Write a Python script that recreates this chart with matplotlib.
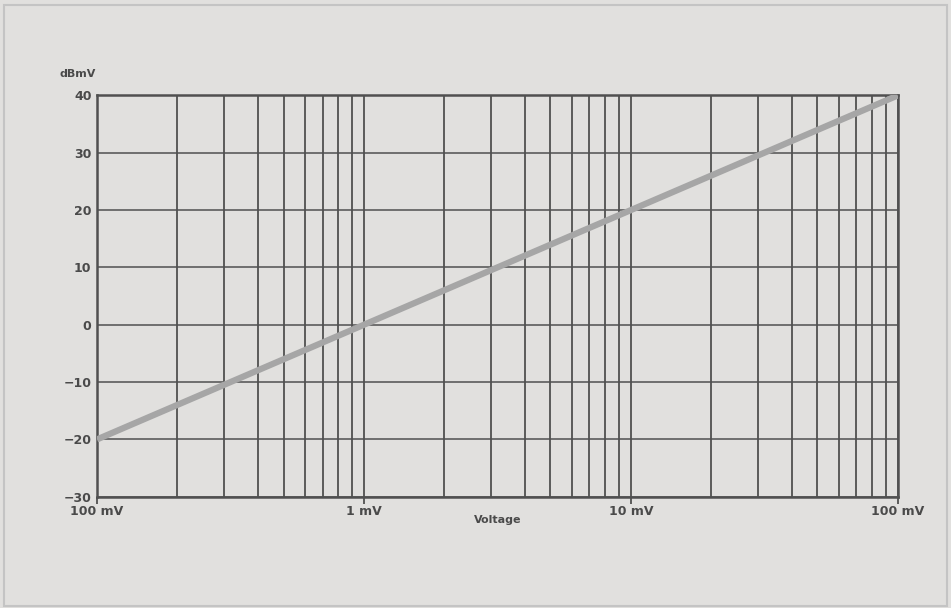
import numpy as np
import matplotlib; matplotlib.use("Agg")
import matplotlib.pyplot as plt
from matplotlib.ticker import FixedLocator, NullFormatter

# data (voltage in mV, level in dBmV)
volt_mv = [0.1, 100.0]
level_dbmv = [-20.0, 40.0]
x_ticks = [0.1, 1.0, 10.0, 100.0]
x_labels = ["100 mV", "1 mV", "10 mV", "100 mV"]
y_ticks = [-30, -20, -10, 0, 10, 20, 30, 40]

BG = "#e1e0de"; GRID = "#505050"; TXT = "#4a4a4a"

fig = plt.figure(figsize=(9.51, 6.08), dpi=100, facecolor=BG)
fig.patches.append(plt.Rectangle((0.004, 0.004), 0.992, 0.988, transform=fig.transFigure,
                                 fill=False, ec="#c4c4c4", lw=1.5))
ax = fig.add_axes([0.102, 0.183, 0.842, 0.660])
ax.set_facecolor(BG)
ax.set_xscale("log")
ax.set_xlim(0.1, 100); ax.set_ylim(-30, 40)

minor = [m * d for d in (0.1, 1, 10) for m in range(2, 10)]
ax.xaxis.set_major_locator(FixedLocator(x_ticks))
ax.xaxis.set_minor_locator(FixedLocator(minor))
ax.xaxis.set_minor_formatter(NullFormatter())
ax.set_xticks(x_ticks); ax.set_xticklabels(x_labels)
ax.set_yticks(y_ticks)
ax.set_yticklabels([str(v).replace("-", "\u2212") for v in y_ticks])

ax.grid(True, which="both", axis="x", color=GRID, lw=1.3)
ax.grid(True, which="major", axis="y", color=GRID, lw=1.1)
for s in ax.spines.values():
    s.set_color(GRID); s.set_linewidth(1.8)

ax.tick_params(axis="x", which="major", length=5, width=1.3, color=GRID,
               labelsize=9, labelcolor=TXT, pad=1)
ax.tick_params(axis="x", which="minor", length=0)
ax.tick_params(axis="y", length=0, labelsize=9, labelcolor=TXT, pad=4)
for lab in ax.get_xticklabels() + ax.get_yticklabels():
    lab.set_fontweight("bold")

ax.plot(volt_mv, level_dbmv, color="#a6a6a6", lw=4.5, solid_capstyle="butt", zorder=5)

ax.set_xlabel("Voltage", fontsize=8, color=TXT, fontweight="bold", labelpad=-2)
fig.text(0.063, 0.873, "dBmV", fontsize=8, color=TXT, fontweight="bold")

fig.savefig("out.png", dpi=100, facecolor=BG)
